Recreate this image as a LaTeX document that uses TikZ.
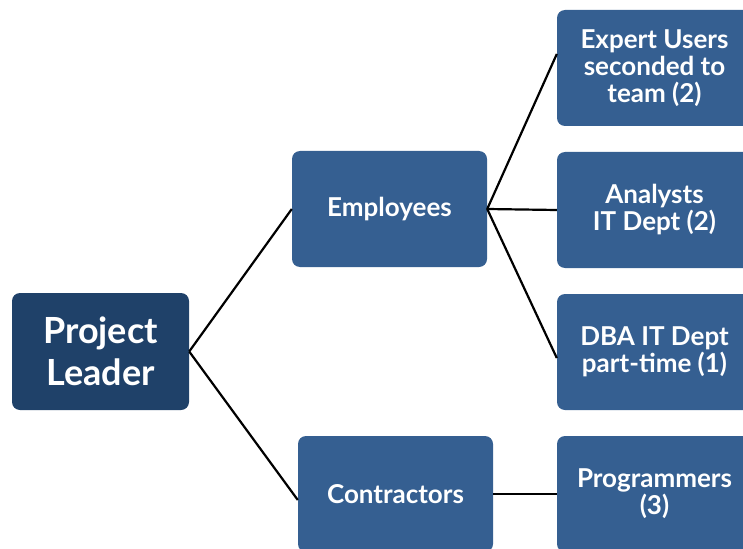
\documentclass[tikz,border=0pt]{standalone}
\usepackage{fontspec}
\setmainfont{Lato}
\usetikzlibrary{positioning}
\definecolor{LeadBlue}{HTML}{1F4169}
\definecolor{BoxBlue}{HTML}{355F91}
\tikzset{%
leadnode/.style={rectangle, rounded corners=8pt, fill=LeadBlue, text=white, minimum width=177pt, minimum height=117pt, align=center, font=\fontsize{36}{42}\selectfont\bfseries},
boxnode/.style={rectangle, rounded corners=8pt, fill=BoxBlue, text=white, minimum width=195pt, minimum height=116pt, align=center, font=\fontsize{26}{27}\selectfont\bfseries},
ln/.style={draw=black, line width=2.2pt}
}
\begin{document}
\begin{tikzpicture}[x=1pt,y=-1pt]
	\useasboundingbox (0,0) rectangle (743,548);
	\clip (0,0) rectangle (743,548);
		\node[leadnode] (lead) at (100.5,351.5) {Project\\Leader};
		\node[boxnode] (emp) at (389.5,209) {Employees};
		\node[boxnode] (con) at (395.5,494) {Contractors};
		\node[boxnode] (exp) at (654.5,68) {Expert Users\\seconded to\\team (2)};
		\node[boxnode] (ana) at (654.5,210) {Analysts\\IT Dept (2)};
		\node[boxnode] (dba) at (654.5,352) {DBA IT Dept\\part-time (1)};
		\node[boxnode] (prog) at (654.5,494) {Programmers\\(3)};

		\path[ln] (lead.east) edge (emp.west);
		\path[ln] (lead.east) edge ([yshift=-6pt]con.west);
		\path[ln] (emp.east) edge ([yshift=14pt]exp.west);
		\path[ln] (emp.east) edge (ana.west);
		\path[ln] (emp.east) edge ([yshift=-6pt]dba.west);
		\path[ln] (con.east) edge (prog.west);
	\end{tikzpicture}
\end{document}
